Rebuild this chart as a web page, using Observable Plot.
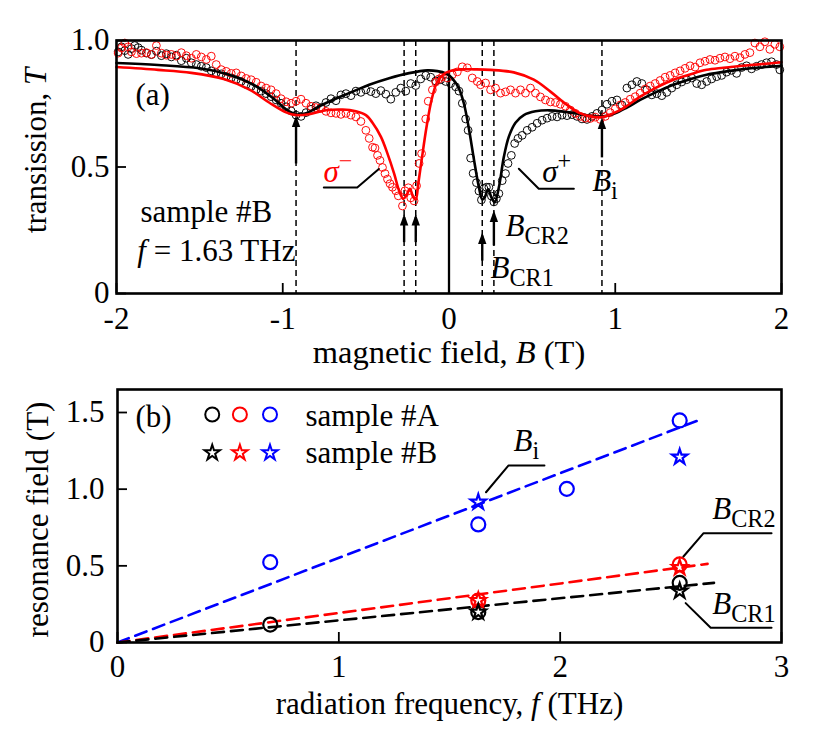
<!DOCTYPE html>
<html><head><meta charset="utf-8">
<script src="https://cdn.jsdelivr.net/npm/d3@7"></script>
<script src="https://cdn.jsdelivr.net/npm/@observablehq/plot@0.6"></script>
<style>
html,body{margin:0;padding:0;background:#fff;overflow:hidden;}
#chart svg{display:block;}
</style></head><body><div id="chart"></div>
<script>
// ---------------- Panel (a): transmission vs magnetic field ----------------
const xTicksA = [-2, -1, 0, 1, 2];
const xTickLabelsA = ["-2", "-1", "0", "1", "2"];
const yTicksA = [0, 0.5, 1.0];
const yTickLabelsA = ["0", "0.5", "1.0"];

// sigma+ measured (black circles)
const sigPlusB = [-1.99,-1.97,-1.95,-1.93,-1.91,-1.89,-1.87,-1.85,-1.82,-1.79,-1.76,-1.73,-1.70,-1.67,-1.64,-1.61,-1.58,-1.55,-1.52,-1.49,-1.46,-1.43,-1.40,-1.37,-1.34,-1.31,-1.28,-1.25,-1.22,-1.19,-1.16,-1.13,-1.10,-1.07,-1.04,-1.01,-0.98,-0.95,-0.92,-0.89,-0.86,-0.83,-0.80,-0.77,-0.74,-0.71,-0.68,-0.65,-0.62,-0.59,-0.56,-0.53,-0.50,-0.47,-0.44,-0.41,-0.38,-0.35,-0.32,-0.29,-0.26,-0.23,-0.20,-0.17,-0.14,-0.11,-0.08,-0.05,-0.02,0.01,0.04,0.06,0.08,0.10,0.115,0.13,0.145,0.165,0.18,0.195,0.21,0.225,0.24,0.255,0.27,0.285,0.30,0.32,0.34,0.355,0.375,0.395,0.415,0.44,0.47,0.50,0.53,0.56,0.59,0.62,0.65,0.68,0.71,0.74,0.77,0.80,0.83,0.86,0.89,0.92,0.95,0.98,1.01,1.04,1.07,1.10,1.13,1.16,1.19,1.22,1.25,1.28,1.31,1.34,1.37,1.40,1.43,1.46,1.49,1.52,1.55,1.58,1.61,1.64,1.67,1.70,1.73,1.76,1.79,1.82,1.85,1.88,1.91,1.94,1.97,1.99];
const sigPlusT = [0.955,0.975,0.960,0.945,0.968,0.980,0.972,0.962,0.950,0.944,0.958,0.940,0.948,0.935,0.942,0.920,0.930,0.912,0.905,0.898,0.893,0.880,0.872,0.868,0.858,0.852,0.845,0.838,0.826,0.818,0.806,0.800,0.790,0.778,0.765,0.752,0.738,0.722,0.705,0.700,0.715,0.728,0.742,0.735,0.755,0.770,0.762,0.785,0.790,0.782,0.800,0.795,0.805,0.798,0.790,0.802,0.788,0.768,0.795,0.812,0.800,0.830,0.822,0.848,0.862,0.855,0.840,0.845,0.838,0.830,0.817,0.800,0.752,0.690,0.645,0.535,0.475,0.438,0.405,0.370,0.415,0.420,0.420,0.385,0.362,0.375,0.395,0.446,0.474,0.514,0.546,0.593,0.613,0.625,0.645,0.657,0.673,0.685,0.693,0.700,0.698,0.705,0.703,0.707,0.700,0.690,0.688,0.700,0.712,0.725,0.748,0.760,0.765,0.745,0.812,0.825,0.838,0.830,0.805,0.785,0.790,0.782,0.795,0.812,0.825,0.836,0.845,0.852,0.830,0.825,0.838,0.848,0.857,0.862,0.875,0.882,0.870,0.893,0.900,0.888,0.898,0.905,0.912,0.916,0.905,0.884];

// sigma- measured (red circles)
const sigMinusB = [-1.99,-1.97,-1.95,-1.93,-1.91,-1.88,-1.85,-1.82,-1.79,-1.76,-1.73,-1.70,-1.67,-1.64,-1.61,-1.58,-1.55,-1.52,-1.49,-1.46,-1.43,-1.40,-1.37,-1.34,-1.31,-1.28,-1.25,-1.22,-1.19,-1.16,-1.13,-1.10,-1.07,-1.04,-1.01,-0.98,-0.95,-0.92,-0.89,-0.86,-0.83,-0.80,-0.77,-0.74,-0.71,-0.68,-0.65,-0.62,-0.59,-0.56,-0.53,-0.50,-0.48,-0.46,-0.445,-0.43,-0.415,-0.40,-0.385,-0.37,-0.355,-0.34,-0.32,-0.305,-0.28,-0.265,-0.245,-0.23,-0.21,-0.195,-0.18,-0.165,-0.14,-0.125,-0.10,-0.08,-0.06,-0.04,-0.01,0.02,0.05,0.08,0.11,0.14,0.17,0.19,0.22,0.25,0.28,0.31,0.34,0.37,0.40,0.43,0.46,0.49,0.52,0.55,0.58,0.61,0.64,0.67,0.70,0.73,0.76,0.79,0.82,0.85,0.88,0.91,0.94,0.97,1.00,1.03,1.06,1.09,1.12,1.15,1.18,1.21,1.24,1.27,1.30,1.33,1.36,1.39,1.42,1.45,1.48,1.51,1.54,1.57,1.60,1.63,1.66,1.69,1.72,1.75,1.78,1.81,1.84,1.87,1.90,1.93,1.96,1.99];
const sigMinusT = [0.950,0.970,0.990,0.975,0.955,0.948,0.950,0.952,0.945,0.980,0.950,0.942,0.945,0.938,0.952,0.940,0.930,0.945,0.935,0.925,0.938,0.905,0.885,0.878,0.870,0.872,0.860,0.850,0.845,0.835,0.820,0.812,0.805,0.790,0.770,0.758,0.752,0.760,0.768,0.752,0.740,0.735,0.732,0.720,0.714,0.712,0.708,0.712,0.705,0.698,0.680,0.645,0.613,0.578,0.575,0.546,0.526,0.498,0.474,0.452,0.434,0.420,0.406,0.386,0.346,0.406,0.418,0.378,0.366,0.426,0.514,0.553,0.690,0.760,0.805,0.836,0.848,0.857,0.852,0.865,0.876,0.896,0.892,0.852,0.838,0.825,0.832,0.805,0.812,0.792,0.797,0.805,0.792,0.805,0.792,0.812,0.792,0.777,0.765,0.757,0.755,0.748,0.740,0.725,0.712,0.700,0.693,0.692,0.697,0.688,0.700,0.715,0.730,0.745,0.755,0.768,0.778,0.792,0.808,0.820,0.830,0.842,0.855,0.862,0.872,0.880,0.890,0.900,0.895,0.912,0.918,0.925,0.922,0.930,0.935,0.928,0.938,0.932,0.945,0.952,0.990,0.975,0.995,0.965,0.985,0.975];

// fitted curves
const fitPlusB = [-2.00,-1.75,-1.50,-1.35,-1.25,-1.15,-1.05,-0.98,-0.92,-0.86,-0.78,-0.70,-0.60,-0.48,-0.36,-0.24,-0.13,-0.07,-0.02,0.02,0.06,0.09,0.12,0.15,0.18,0.20,0.215,0.235,0.255,0.275,0.30,0.33,0.36,0.40,0.45,0.52,0.60,0.70,0.80,0.88,0.94,1.00,1.07,1.15,1.25,1.35,1.45,1.55,1.65,1.75,1.87,2.00];
const fitPlusT = [0.911,0.903,0.890,0.870,0.848,0.815,0.768,0.728,0.708,0.712,0.740,0.765,0.792,0.825,0.851,0.871,0.882,0.879,0.870,0.850,0.810,0.750,0.650,0.530,0.420,0.372,0.380,0.412,0.380,0.360,0.420,0.540,0.620,0.675,0.705,0.720,0.724,0.718,0.708,0.700,0.701,0.712,0.735,0.765,0.797,0.825,0.847,0.865,0.876,0.885,0.893,0.900];
const fitMinusB = [-2.00,-1.75,-1.55,-1.35,-1.20,-1.08,-0.98,-0.92,-0.84,-0.74,-0.64,-0.56,-0.50,-0.46,-0.41,-0.37,-0.33,-0.30,-0.275,-0.255,-0.235,-0.215,-0.200,-0.185,-0.165,-0.135,-0.105,-0.074,-0.036,0.00,0.07,0.15,0.25,0.39,0.51,0.61,0.71,0.79,0.87,0.92,0.98,1.05,1.15,1.25,1.35,1.45,1.55,1.65,1.75,1.87,2.00];
const fitMinusT = [0.895,0.884,0.872,0.847,0.806,0.754,0.716,0.705,0.709,0.724,0.727,0.720,0.705,0.675,0.620,0.553,0.474,0.406,0.374,0.390,0.414,0.380,0.372,0.433,0.526,0.659,0.765,0.832,0.865,0.878,0.886,0.886,0.884,0.874,0.845,0.798,0.745,0.712,0.698,0.697,0.710,0.733,0.778,0.815,0.845,0.866,0.884,0.892,0.899,0.906,0.914];

// resonance positions (dashed guides) and zero line
const resonanceB = [-0.92, -0.27, -0.20, 0.20, 0.27, 0.92];
const zeroB = [0];

// arrows: field, tail, tip (in T units)
const arrowB    = [-0.92, 0.92, -0.27, -0.20, 0.20, 0.27];
const arrowTail = [0.514, 0.538, 0.203, 0.203, 0.130, 0.190];
const arrowTip  = [0.692, 0.684, 0.302, 0.302, 0.229, 0.316];

// text annotations for (a)
const annA_text = ["(a)", "sample #B", "<i>f</i> = 1.63 THz", "<i>σ</i><sup>+</sup>", "<i>B</i><sub>i</sub>", "<i>B</i><sub>CR2</sub>", "<i>B</i><sub>CR1</sub>"];
const annA_x = [-1.886, -1.856, -1.875, 0.561, 0.861, 0.340, 0.250];
const annA_y = [0.747, 0.282, 0.130, 0.439, 0.407, 0.229, 0.063];
const sigMinusLabel = ["<i>σ</i><sup>−</sup>"];
const sigMinusLabelX = [-0.755], sigMinusLabelY = [0.439];
const leadMinusB = [-0.753, -0.552, -0.422], leadMinusT = [0.419, 0.419, 0.492];
const leadPlusB = [0.751, 0.540, 0.420], leadPlusT = [0.414, 0.414, 0.493];

// ---------------- Panel (b): resonance field vs frequency ----------------
const xTicksB = [0, 1, 2, 3];
const yTicksB = [0, 0.5, 1.0, 1.5];
const yTickLabelsB = ["0", "0.5", "1.0", "1.5"];

// sample #A (circles)
const aCR1_f = [0.69, 1.63, 2.54], aCR1_B = [0.117, 0.198, 0.389];
const aCR2_f = [1.63, 2.54],       aCR2_B = [0.274, 0.509];
const aBi_f  = [0.69, 1.63, 2.03, 2.54], aBi_B = [0.524, 0.770, 1.002, 1.448];
// sample #B (stars)
const bCR1_f = [1.63, 2.54], bCR1_B = [0.198, 0.335];
const bCR2_f = [1.63, 2.54], bCR2_B = [0.274, 0.489];
const bBi_f  = [1.63, 2.54], bBi_B  = [0.915, 1.209];
// linear fits (dashed)
const fitBi_f  = [0, 2.63],  fitBi_B  = [0, 1.452];
const fitCR2_f = [0, 2.666], fitCR2_B = [0, 0.513];
const fitCR1_f = [0, 2.695], fitCR1_B = [0, 0.389];

// legend
const legendColors = ["black", "red", "blue"];
const legendF = [0.428, 0.553, 0.689];
const legendCircleY = 1.487, legendStarY = 1.237;
const annB_text = ["(b)", "sample #A", "sample #B", "<i>B</i><sub>i</sub>", "<i>B</i><sub>CR2</sub>", "<i>B</i><sub>CR1</sub>"];
const annB_x = [0.081, 0.849, 0.849, 1.789, 2.687, 2.687];
const annB_y = [1.404, 1.415, 1.169, 1.252, 0.807, 0.187];
const leadBi_f = [1.929, 1.766, 1.665],  leadBi_y = [1.154, 1.154, 0.980];
const leadCR2_f = [2.955, 2.648, 2.557], leadCR2_y = [0.713, 0.713, 0.561];
const leadCR1_f = [2.955, 2.680, 2.567], leadCR1_y = [0.096, 0.096, 0.257];

// ---------------- helpers ----------------
const F = 31;
const FONT = "'Liberation Serif','Times New Roman',serif";
const pts = (xs, ys) => xs.map((x, i) => ({x, y: ys[i]}));
const arrowHead = {draw(ctx) { ctx.moveTo(0, -3); ctx.lineTo(4.2, 8.5); ctx.lineTo(-4.2, 8.5); ctx.closePath(); }};

function rich(svg) {
  svg.querySelectorAll("text").forEach(t => {
    const s = t.textContent;
    if (!s.includes("<")) return;
    t.textContent = "";
    const re = /<(\/?)(i|sub|sup)>|([^<]+)/g;
    const st = {i: false, sub: false, sup: false};
    let shift = 0, m;
    while ((m = re.exec(s))) {
      if (m[2]) { st[m[2]] = !m[1]; continue; }
      const sp = document.createElementNS("http://www.w3.org/2000/svg", "tspan");
      sp.textContent = m[3];
      if (st.i) sp.setAttribute("font-style", "italic");
      const target = st.sub ? 0.27 : st.sup ? -0.42 : 0;
      if (st.sub || st.sup) sp.setAttribute("font-size", (0.78 * F) + "px");
      const d = target - shift;
      if (d) sp.setAttribute("dy", (d * F) + "px");
      shift = target;
      t.appendChild(sp);
    }
  });
}

// ---------------- build panel (a) ----------------
const hA = 375, mTA = 40, mBA = 82;
const plotA = Plot.plot({
  width: 830, height: hA,
  marginLeft: 116, marginRight: 49, marginTop: mTA, marginBottom: mBA,
  x: {domain: [-2, 2], axis: null},
  y: {domain: [0, 1], axis: null},
  style: {fontFamily: FONT, fontSize: F + "px", background: "white", overflow: "visible", color: "black"},
  marks: [
    Plot.ruleX(resonanceB, {x: d => d, stroke: "black", strokeWidth: 1.5, strokeDasharray: "6,4"}),
    Plot.ruleX(zeroB, {x: d => d, stroke: "black", strokeWidth: 2.3}),
    Plot.dot(pts(sigPlusB, sigPlusT), {x: "x", y: "y", r: 3.9, stroke: "black", strokeWidth: 0.95, fill: "none"}),
    Plot.dot(pts(sigMinusB, sigMinusT), {x: "x", y: "y", r: 3.9, stroke: "red", strokeWidth: 0.95, fill: "none"}),
    Plot.line(pts(fitPlusB, fitPlusT), {x: "x", y: "y", stroke: "black", strokeWidth: 2.6, curve: "catmull-rom"}),
    Plot.line(pts(fitMinusB, fitMinusT), {x: "x", y: "y", stroke: "red", strokeWidth: 2.6, curve: "catmull-rom"}),
    Plot.link(arrowB.map((b, i) => ({b, t0: arrowTail[i], t1: arrowTip[i]})), {x1: "b", x2: "b", y1: "t0", y2: "t1", stroke: "black", strokeWidth: 2.4}),
    Plot.dot(arrowB.map((b, i) => ({b, t: arrowTip[i]})), {x: "b", y: "t", symbol: arrowHead, fill: "black", stroke: "none"}),
    Plot.line(pts(leadMinusB, leadMinusT), {x: "x", y: "y", stroke: "black", strokeWidth: 2}),
    Plot.line(pts(leadPlusB, leadPlusT), {x: "x", y: "y", stroke: "black", strokeWidth: 2}),
    Plot.text(annA_text.map((t, i) => ({t, x: annA_x[i], y: annA_y[i]})), {x: "x", y: "y", text: "t", textAnchor: "start", lineAnchor: "bottom", fill: "black"}),
    Plot.text(sigMinusLabel.map((t, i) => ({t, x: sigMinusLabelX[i], y: sigMinusLabelY[i]})), {x: "x", y: "y", text: "t", textAnchor: "start", lineAnchor: "bottom", fill: "red"}),
    Plot.tickX(xTicksA, {x: d => d, stroke: "black", strokeWidth: 1.8, insetTop: hA - mTA - mBA - 10}),
    Plot.tickY(yTicksA, {y: d => d, stroke: "black", strokeWidth: 1.8, insetRight: 830 - 116 - 49 - 10}),
    Plot.text(xTicksA, {x: d => d, text: (d, i) => xTickLabelsA[i], frameAnchor: "bottom", dy: 35, textAnchor: "middle", lineAnchor: "bottom", fill: "black"}),
    Plot.text(yTicksA, {y: d => d, text: (d, i) => yTickLabelsA[i], frameAnchor: "left", dx: -7, textAnchor: "end", lineAnchor: "middle", fill: "black"}),
    Plot.text(["magnetic field, <i>B</i> (T)"], {text: d => d, frameAnchor: "bottom", dy: 69, textAnchor: "middle", lineAnchor: "bottom", fill: "black", fontSize: 32.5}),
    Plot.text(["transission, <i>T</i>"], {text: d => d, frameAnchor: "left", rotate: -90, dx: -71, dy: -16.5, textAnchor: "middle", lineAnchor: "bottom", fill: "black"}),
    Plot.frame({stroke: "black", strokeWidth: 2.6})
  ]
});

// ---------------- build panel (b) ----------------
const hB = 371, mTB = 14, mBB = 104;
const dash = "12,7";
const plotB = Plot.plot({
  width: 830, height: hB,
  marginLeft: 117, marginRight: 49, marginTop: mTB, marginBottom: mBB,
  x: {domain: [0, 3], axis: null},
  y: {domain: [0, 1.65], axis: null},
  style: {fontFamily: FONT, fontSize: F + "px", background: "white", overflow: "visible", color: "black"},
  marks: [
    Plot.line(pts(fitBi_f, fitBi_B), {x: "x", y: "y", stroke: "blue", strokeWidth: 2.6, strokeDasharray: dash}),
    Plot.line(pts(fitCR2_f, fitCR2_B), {x: "x", y: "y", stroke: "red", strokeWidth: 2.6, strokeDasharray: dash}),
    Plot.line(pts(fitCR1_f, fitCR1_B), {x: "x", y: "y", stroke: "black", strokeWidth: 2.6, strokeDasharray: dash}),
    Plot.dot(pts(aBi_f, aBi_B), {x: "x", y: "y", r: 7, stroke: "blue", strokeWidth: 2.2, fill: "none"}),
    Plot.dot(pts(aCR2_f, aCR2_B), {x: "x", y: "y", r: 7, stroke: "red", strokeWidth: 2.2, fill: "none"}),
    Plot.dot(pts(aCR1_f, aCR1_B), {x: "x", y: "y", r: 7, stroke: "black", strokeWidth: 2.2, fill: "none"}),
    Plot.dot(pts(bBi_f, bBi_B), {x: "x", y: "y", r: 4.8, symbol: "star", stroke: "blue", strokeWidth: 2.2, fill: "none"}),
    Plot.dot(pts(bCR2_f, bCR2_B), {x: "x", y: "y", r: 4.8, symbol: "star", stroke: "red", strokeWidth: 2.2, fill: "none"}),
    Plot.dot(pts(bCR1_f, bCR1_B), {x: "x", y: "y", r: 4.8, symbol: "star", stroke: "black", strokeWidth: 2.2, fill: "none"}),
    Plot.dot(legendF.map((f, i) => ({f, c: legendColors[i]})), {x: "f", y: () => legendCircleY, r: 7, stroke: "c", strokeWidth: 2, fill: "none"}),
    Plot.dot(legendF.map((f, i) => ({f, c: legendColors[i]})), {x: "f", y: () => legendStarY, r: 4.8, symbol: "star", stroke: "c", strokeWidth: 2, fill: "none"}),
    Plot.line(pts(leadBi_f, leadBi_y), {x: "x", y: "y", stroke: "black", strokeWidth: 2}),
    Plot.line(pts(leadCR2_f, leadCR2_y), {x: "x", y: "y", stroke: "black", strokeWidth: 2}),
    Plot.line(pts(leadCR1_f, leadCR1_y), {x: "x", y: "y", stroke: "black", strokeWidth: 2}),
    Plot.text(annB_text.map((t, i) => ({t, x: annB_x[i], y: annB_y[i]})), {x: "x", y: "y", text: "t", textAnchor: "start", lineAnchor: "bottom", fill: "black"}),
    Plot.tickX(xTicksB, {x: d => d, stroke: "black", strokeWidth: 1.8, insetTop: hB - mTB - mBB - 10}),
    Plot.tickY(yTicksB, {y: d => d, stroke: "black", strokeWidth: 1.8, insetRight: 830 - 117 - 49 - 10}),
    Plot.text(xTicksB, {x: d => d, text: d => String(d), frameAnchor: "bottom", dy: 34, textAnchor: "middle", lineAnchor: "bottom", fill: "black"}),
    Plot.text(yTicksB, {y: d => d, text: (d, i) => yTickLabelsB[i], frameAnchor: "left", dx: -13, textAnchor: "end", lineAnchor: "middle", fill: "black"}),
    Plot.text(["radiation frequency, <i>f</i> (THz)"], {text: d => d, frameAnchor: "bottom", dy: 71, textAnchor: "middle", lineAnchor: "bottom", fill: "black"}),
    Plot.text(["resonance field (T)"], {text: d => d, frameAnchor: "left", rotate: -90, dx: -70, dy: 3.5, textAnchor: "middle", lineAnchor: "bottom", fill: "black"}),
    Plot.frame({stroke: "black", strokeWidth: 2.6})
  ]
});

const root = document.getElementById("chart");
root.appendChild(plotA);
root.appendChild(plotB);
rich(plotA);
rich(plotB);
</script></body></html>
